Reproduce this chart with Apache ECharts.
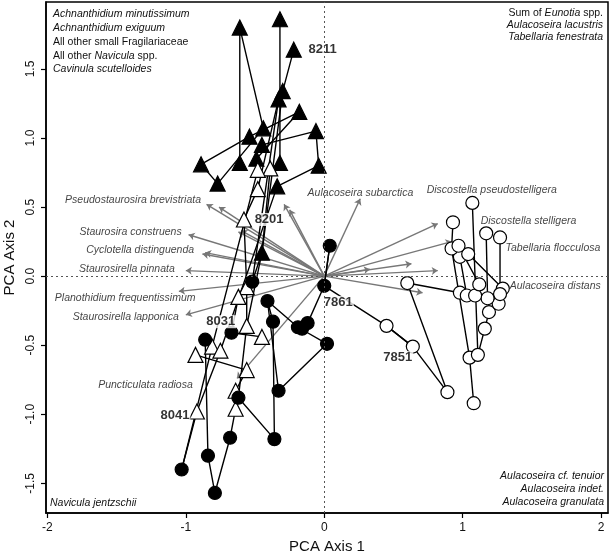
<!DOCTYPE html>
<html>
<head>
<meta charset="utf-8">
<script src="https://cdn.jsdelivr.net/npm/echarts@6/dist/echarts.min.js"></script>
<style>html,body{margin:0;padding:0;background:#fff}#chart{width:611px;height:557px}</style>
</head>
<body>
<div id="chart"></div>
<script>
// species arrow tips (PCA axis 1, axis 2)
var arrowTips = [
  [-0.85,0.52],[-0.76,0.50],[-0.62,0.32],[-0.60,0.33],[-0.98,0.30],[-0.88,0.16],[-0.86,0.17],
  [-1.00,0.04],[-1.05,-0.11],[-1.00,-0.28],[-0.29,0.52],[-0.25,0.48],[-0.63,-0.74],
  [0.26,0.56],[0.82,0.38],[0.92,0.25],[0.63,0.09],[0.33,0.05],[0.82,0.04],[0.71,-0.12]
];
var speciesLeft = ['Pseudostaurosira brevistriata','Staurosira construens','Cyclotella distinguenda',
  'Staurosirella pinnata','Planothidium frequentissimum','Staurosirella lapponica','Puncticulata radiosa'];
var speciesLeftAt = [[-0.89,0.55],[-1.03,0.32],[-0.94,0.19],[-1.08,0.05],[-0.93,-0.16],[-1.05,-0.30],[-0.95,-0.79]];
var speciesRight = ['Aulacoseira subarctica','Discostella pseudostelligera','Discostella stelligera',
  'Tabellaria flocculosa','Aulacoseira distans'];
var speciesRightAt = [[-0.12,0.60],[0.74,0.62],[1.13,0.40],[1.31,0.20],[1.34,-0.07]];

// sample trajectories: [axis1, axis2, symbol type]
// 0 filled triangle, 1 open triangle, 2 filled circle, 3 open circle
var path8211 = [[-0.22,1.64,0],[-0.30,1.34,0],[-0.33,1.28,0],[-0.48,0.63,1],[-0.58,0.41,1],[-0.56,-0.08,1],
  [-0.56,-0.36,1],[-0.62,-0.88,2],[-0.36,-1.18,2],[-0.37,-0.33,2],[-0.41,-0.18,2],[-0.19,-0.37,2],
  [-0.16,-0.38,2],[-0.12,-0.34,2],[0.00,-0.07,2],[0.04,0.22,2]];
var pathA = [[-0.32,1.86,0],[-0.32,0.82,0],[-0.39,0.78,1],[-0.45,0.17,0],[-0.52,-0.04,2],[-0.62,-0.15,1],
  [-0.67,-0.41,2],[-0.45,-0.44,1]];
var pathB = [[-0.30,1.34,0],[-0.45,0.17,0],[-0.56,-0.36,1]];
var pathE = [[-0.33,1.28,0],[-0.52,-0.04,2]];
var path8201 = [[-0.61,0.82,0],[-0.61,1.80,0],[-0.44,1.07,0],[-0.77,0.67,0],[-0.89,0.81,0],[-0.54,1.01,0],
  [-0.18,1.19,0],[-0.49,0.85,0],[-0.48,0.77,1],[-0.81,-0.51,1],[-1.03,-1.40,2]];
var path8041 = [[-0.45,0.95,0],[-0.06,1.05,0],[-0.04,0.80,0],[-0.34,0.65,0],[-0.75,-0.54,1],[-0.92,-0.98,1],
  [-1.03,-1.40,2]];
var path8031 = [[-0.86,-0.46,2],[-0.84,-1.30,2],[-0.79,-1.57,2],[-0.68,-1.17,2],[-0.64,-0.96,1],[-0.64,-0.83,1],
  [-0.56,-0.68,1],[-0.93,-0.57,1]];
var pathD = [[-0.41,-0.18,2],[-0.33,-0.83,2],[0.02,-0.49,2],[-0.19,-0.37,2]];
var path7861 = [[0.04,0.22,2],[0.00,-0.07,2],[0.45,-0.36,3],[0.64,-0.51,3]];
var path7851 = [[0.45,-0.36,3],[0.64,-0.51,3],[0.89,-0.84,3],[0.60,-0.05,3],[0.98,-0.12,3],[1.03,-0.14,3],
  [0.98,0.14,3],[1.04,0.16,3],[1.29,-0.09,3]];
var pathC1 = [[0.93,0.39,3],[0.92,0.20,3],[1.05,-0.59,3],[1.08,-0.92,3]];
var pathC2 = [[1.07,0.53,3],[1.11,-0.57,3],[1.16,-0.38,3],[1.19,-0.26,3],[1.26,-0.20,3],[1.27,-0.13,3],[1.27,0.28,3]];
var pathC3 = [[1.17,0.31,3],[1.18,-0.16,3],[1.09,-0.14,3],[1.12,-0.06,3],[0.97,0.22,3]];
var paths = [path8211, pathA, pathB, pathE, path8201, path8041, path8031, pathD, path7861, path7851,
  pathC1, pathC2, pathC3];

var lakeNames = ['8211','8201','8031','8041','7861','7851'];
var lakeLabelAt = [[-0.12,1.64],[-0.51,0.41],[-0.86,-0.33],[-1.19,-1.01],[-0.01,-0.19],[0.42,-0.59]];

var xTicks = [-2,-1,0,1,2];
var yTicks = [-1.5,-1,-0.5,0,0.5,1,1.5];

var font = 'Liberation Sans, Arial, Helvetica, sans-serif';
var myChart = echarts.init(document.getElementById('chart'));

var series = [];
// arrows
series.push({
  type: 'lines', coordinateSystem: 'cartesian2d', z: 1, silent: true,
  symbol: ['none', 'arrow'], symbolSize: 6,
  lineStyle: {color: '#777', width: 1.4, opacity: 1},
  data: arrowTips.map(function (t) { return {coords: [[0, 0], t]}; }),
  markLine: {
    silent: true, symbol: 'none', label: {show: false},
    lineStyle: {color: '#555', type: [2, 3], width: 1},
    data: [{xAxis: 0}, {yAxis: 0}]
  }
});
// trajectories
paths.forEach(function (p) {
  series.push({
    type: 'line', z: 2, symbol: 'none', silent: true,
    lineStyle: {color: '#000', width: 1.4},
    data: p.map(function (d) { return [d[0], d[1]]; })
  });
});
// markers by type
var styles = [
  {symbol: 'triangle', color: '#000', border: '#000'},
  {symbol: 'triangle', color: '#fff', border: '#000'},
  {symbol: 'circle', color: '#000', border: '#000'},
  {symbol: 'circle', color: '#fff', border: '#000'}
];
styles.forEach(function (s, k) {
  var seen = {}, pts = [];
  paths.forEach(function (p) {
    p.forEach(function (d) {
      var key = d[0] + ',' + d[1];
      if (d[2] === k && !seen[key]) { seen[key] = 1; pts.push([d[0], d[1]]); }
    });
  });
  series.push({
    type: 'scatter', z: 3, symbol: s.symbol, symbolSize: s.symbol === 'triangle' ? 15 : 13,
    itemStyle: {color: s.color, borderColor: s.border, borderWidth: 1.2, opacity: 1},
    data: pts
  });
});
function textSeries(names, at, pos, style) {
  return {
    type: 'scatter', z: 4, symbolSize: 0, silent: true,
    data: names.map(function (n, i) { return {value: at[i], name: n}; }),
    label: Object.assign({show: true, position: pos, distance: 0, formatter: '{b}'}, style)
  };
}
var italic = {fontFamily: font, fontStyle: 'italic', fontSize: 10.5, color: '#111'};
series.push(textSeries(speciesLeft, speciesLeftAt, 'left', italic));
series.push(textSeries(speciesRight, speciesRightAt, 'right', italic));
series.push(textSeries(lakeNames, lakeLabelAt, 'right',
  {fontFamily: font, fontWeight: 'bold', fontSize: 13, color: '#000', backgroundColor: '#fff', padding: [0, 1]}));

var rich = {
  i: {fontFamily: font, fontStyle: 'italic', fontSize: 10.5, fill: '#111', color: '#111'},
  n: {fontFamily: font, fontSize: 10.5, fill: '#111', color: '#111'}
};
function cornerText(x, y, txt, align) {
  return {type: 'text', x: x, y: y, z: 10, silent: true,
    style: {text: txt, rich: rich, align: align, verticalAlign: 'middle', fontFamily: font, fontSize: 10.5}};
}

option = {
  animation: false,
  grid: {left: 46, right: 3, top: 2, bottom: 44, outerBoundsMode: 'none', containLabel: false,
    show: true, borderColor: '#000', borderWidth: 1.5},
  xAxis: {
    type: 'value', min: -2.01, max: 2.05, splitLine: {show: false},
    name: 'PCA Axis 1', nameLocation: 'middle', nameGap: 24,
    nameTextStyle: {fontFamily: font, fontSize: 15, color: '#111'},
    axisLine: {show: true, onZero: false, lineStyle: {color: '#000', width: 1.5}},
    axisTick: {show: true, length: 5, customValues: xTicks, lineStyle: {color: '#000', width: 1.2}},
    axisLabel: {customValues: xTicks, margin: 9, fontFamily: font, fontSize: 12, color: '#111'}
  },
  yAxis: {
    type: 'value', min: -1.715, max: 1.985, splitLine: {show: false},
    name: 'PCA Axis 2', nameLocation: 'middle', nameGap: 19,
    nameTextStyle: {fontFamily: font, fontSize: 15, color: '#111'},
    axisLine: {show: true, onZero: false, lineStyle: {color: '#000', width: 1.5}},
    axisTick: {show: true, length: 5, customValues: yTicks, lineStyle: {color: '#000', width: 1.2}},
    axisLabel: {customValues: yTicks, rotate: 90, margin: 9, fontFamily: font, fontSize: 12, color: '#111',
      formatter: function (v) { return v.toFixed(1); }}
  },
  graphic: [
    cornerText(53, 14, '{i|Achnanthidium minutissimum}', 'left'),
    cornerText(53, 28, '{i|Achnanthidium exiguum}', 'left'),
    cornerText(53, 42, '{n|All other small Fragilariaceae}', 'left'),
    cornerText(53, 56, '{n|All other }{i|Navicula}{n| spp.}', 'left'),
    cornerText(53, 69, '{i|Cavinula scutelloides}', 'left'),
    cornerText(603, 13, '{n|Sum of }{i|Eunotia}{n| spp.}', 'right'),
    cornerText(603, 25, '{i|Aulacoseira lacustris}', 'right'),
    cornerText(603, 37, '{i|Tabellaria fenestrata}', 'right'),
    cornerText(604, 476, '{i|Aulacoseira cf. tenuior}', 'right'),
    cornerText(604, 489, '{i|Aulacoseira indet.}', 'right'),
    cornerText(604, 502, '{i|Aulacoseira granulata}', 'right'),
    cornerText(50, 503, '{i|Navicula jentzschii}', 'left')
  ],
  series: series
};
myChart.setOption(option);
</script>
</body>
</html>
